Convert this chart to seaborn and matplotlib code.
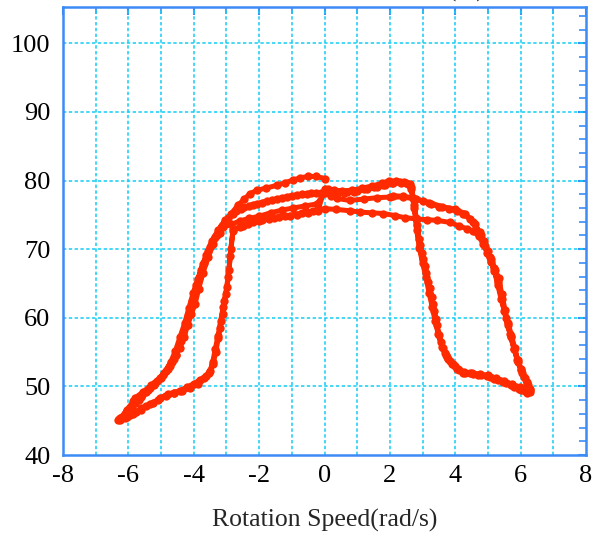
import numpy as np
import pandas as pd
import matplotlib
matplotlib.use("Agg")
import matplotlib.pyplot as plt
import seaborn as sns
from matplotlib.ticker import MultipleLocator

# ---- data ----
seg1_x = [2.10, 2.40, 2.70, 3.00, 3.25, 3.50, 3.80, 4.05, 4.25, 4.45, 4.60, 4.75, 4.88, 5.00, 5.10, 5.22, 5.33, 5.42, 5.52, 5.62, 5.72, 5.82, 5.92, 6.02, 6.12, 6.22, 6.30]
seg1_y = [77.8, 77.7, 77.5, 77.0, 76.6, 76.2, 75.9, 75.5, 75.1, 74.4, 73.6, 72.5, 71.2, 69.8, 68.6, 67.0, 65.8, 63.5, 61.2, 59.2, 57.4, 55.6, 53.8, 52.4, 51.2, 50.2, 49.5]

seg2_x = [6.15, 5.98, 5.75, 5.50, 5.25, 5.00, 4.75, 4.50, 4.27, 4.08, 3.90, 3.75, 3.62, 3.50, 3.40, 3.32, 3.22, 3.12, 3.02, 2.93, 2.83, 2.75, 2.65, 2.50, 2.30, 2.05, 1.80, 1.50, 1.20, 0.90, 0.60, 0.30, 0.05, -0.25, -0.55, -0.85, -1.15, -1.45, -1.76, -2.05, -2.30, -2.55, -2.80, -3.05, -3.25, -3.45, -3.62, -3.78, -3.92, -4.05, -4.18, -4.32, -4.45, -4.60, -4.78, -5.00, -5.22, -5.45, -5.68, -5.90, -6.10, -6.28]
seg2_y = [49.6, 49.9, 50.3, 50.8, 51.2, 51.6, 51.8, 51.9, 52.1, 52.6, 53.3, 54.3, 55.6, 57.5, 59.8, 62.0, 64.3, 66.6, 68.6, 70.6, 73.5, 76.5, 79.0, 79.6, 79.8, 79.7, 79.3, 79.0, 78.7, 78.4, 78.2, 78.2, 78.3, 78.2, 78.1, 77.9, 77.6, 77.3, 77.0, 76.6, 76.3, 75.8, 75.2, 74.2, 72.8, 71.2, 69.2, 67.0, 64.8, 62.5, 60.2, 57.8, 55.8, 54.0, 52.5, 51.2, 50.2, 49.2, 48.0, 46.9, 46.0, 45.2]

seg3_x = [-6.10, -5.95, -5.78, -5.62, -5.45, -5.24, -5.02, -4.80, -4.60, -4.42, -4.20, -4.00, -3.80, -3.62, -3.50, -3.41, -3.33, -3.25, -3.19, -3.12, -3.06, -2.98, -2.92, -2.87, -2.80, -2.60, -2.35, -2.00, -1.70, -1.40, -1.05, -0.70, -0.35, 0.00, 0.35, 0.78, 1.10, 1.45, 1.80, 2.15, 2.45, 2.83, 3.15, 3.44, 3.84, 4.10, 4.35, 4.55, 4.72, 4.85, 4.97, 5.08, 5.20, 5.30, 5.40, 5.50, 5.60, 5.70, 5.80, 5.90, 6.00, 6.10, 6.20, 6.28]
seg3_y = [45.4, 45.8, 46.2, 46.6, 47.1, 47.6, 48.3, 48.9, 49.1, 49.4, 49.9, 50.4, 51.0, 51.5, 52.3, 53.2, 55.0, 57.0, 58.5, 60.5, 62.5, 64.5, 67.0, 70.0, 72.6, 73.2, 73.6, 74.1, 74.4, 74.7, 74.9, 75.3, 75.6, 75.9, 75.8, 75.6, 75.4, 75.3, 75.2, 74.9, 74.6, 74.4, 74.3, 74.2, 73.9, 73.4, 73.0, 72.6, 71.9, 70.8, 69.5, 68.2, 66.8, 64.8, 62.8, 61.0, 59.0, 57.2, 55.4, 53.8, 52.5, 51.3, 50.3, 49.2]

seg4_x = [6.12, 5.95, 5.70, 5.46, 5.20, 4.97, 4.70, 4.45, 4.24, 4.05, 3.93, 3.78, 3.68, 3.55, 3.43, 3.36, 3.28, 3.18, 3.08, 2.98, 2.88, 2.80, 2.72, 2.62, 2.42, 2.20, 1.98, 1.75, 1.45, 1.15, 0.85, 0.55, 0.30, 0.10, 0.00, -0.23, -0.60, -0.96, -1.30, -1.65, -2.00, -2.30, -2.60, -2.85, -3.10, -3.30, -3.50, -3.68, -3.85, -3.98, -4.10, -4.25, -4.40, -4.55, -4.72, -4.95, -5.18, -5.40, -5.62, -5.85, -6.05, -6.25]
seg4_y = [49.3, 49.6, 50.2, 50.7, 51.1, 51.5, 51.7, 51.9, 52.0, 52.6, 53.2, 54.0, 54.8, 56.5, 59.0, 61.0, 63.0, 65.2, 67.5, 69.5, 71.5, 74.5, 77.5, 79.5, 79.8, 79.9, 80.0, 79.6, 79.2, 78.9, 78.6, 78.5, 78.6, 78.8, 78.2, 76.6, 76.3, 76.0, 75.7, 75.3, 74.8, 74.5, 74.1, 73.6, 73.2, 72.0, 70.3, 68.0, 65.8, 63.2, 61.2, 58.8, 56.6, 54.6, 53.0, 51.6, 50.5, 49.5, 48.5, 47.4, 46.4, 45.4]

seg5_x = [-6.05, -5.85, -5.60, -5.35, -5.10, -4.85, -4.60, -4.35, -4.10, -3.88, -3.68, -3.52, -3.42, -3.34, -3.26, -3.18, -3.10, -3.02, -2.95, -2.88, -2.80, -2.50, -2.20, -1.90, -1.55, -1.20, -0.85, -0.50, -0.20, 0.00, 0.20, 0.38, 0.78, 1.20, 1.60, 2.00, 2.40, 2.80, 3.20, 3.60, 4.00, 4.30, 4.55, 4.78, 4.92, 5.05, 5.18, 5.30, 5.42, 5.55, 5.68, 5.80, 5.92, 6.05, 6.18, 6.30]
seg5_y = [45.5, 46.0, 46.8, 47.4, 48.0, 48.6, 49.0, 49.3, 49.8, 50.4, 51.2, 52.0, 53.5, 55.5, 57.3, 59.5, 61.5, 63.5, 66.0, 69.0, 72.9, 73.4, 73.9, 74.3, 74.6, 74.9, 75.0, 75.3, 75.6, 78.8, 77.8, 77.4, 77.1, 77.3, 77.5, 77.6, 77.6, 77.3, 76.8, 76.2, 75.8, 75.2, 74.0, 72.0, 70.4, 68.8, 67.2, 65.2, 62.8, 60.0, 57.6, 55.5, 53.6, 52.0, 50.6, 49.6]

seg6_x = [6.20, 6.00, 5.80, 5.55, 5.30, 5.05, 4.80, 4.55, 4.30, 4.12, 3.98, 3.85, 3.72, 3.60, 3.48, 3.38, 3.30, 3.20, 3.10, 3.00, 2.90, 2.82, 2.74, 2.66, 2.55, 2.35, 2.10, 1.85, 1.60, 1.30, 1.00, 0.70, 0.40, 0.15, -0.10, -0.40, -0.70, -1.00, -1.30, -1.60, -1.90, -2.20, -2.45, -2.70, -2.95, -3.15, -3.35, -3.55, -3.72, -3.88, -4.02, -4.15, -4.28, -4.42, -4.56, -4.70, -4.90, -5.12, -5.35, -5.58, -5.80, -6.00, -6.20, -6.32]
seg6_y = [49.0, 49.5, 49.9, 50.5, 50.9, 51.4, 51.6, 51.8, 52.0, 52.4, 53.0, 53.7, 54.6, 55.8, 57.6, 59.6, 61.5, 63.6, 66.0, 68.0, 70.2, 72.8, 76.0, 78.8, 79.5, 79.7, 79.6, 79.4, 79.0, 78.8, 78.5, 78.3, 78.3, 78.4, 78.2, 78.2, 78.0, 77.8, 77.5, 77.2, 76.8, 76.5, 76.1, 75.6, 74.6, 73.4, 71.8, 69.8, 67.8, 65.6, 63.6, 61.4, 59.2, 57.2, 55.2, 53.6, 52.0, 50.8, 49.8, 48.8, 47.6, 46.6, 45.6, 45.1]

seg7_x = [-6.25, -6.05, -5.85, -5.80, -5.55, -5.30, -5.03, -4.85, -4.68, -4.55, -4.42, -4.30, -4.18, -4.07, -3.96, -3.85, -3.72, -3.56, -3.40, -3.20, -3.04, -2.85, -2.65, -2.45, -2.28, -2.05, -1.80, -1.46, -1.20, -0.95, -0.75, -0.50, -0.25, 0.02]
seg7_y = [45.1, 46.6, 47.8, 48.3, 49.2, 50.2, 51.2, 52.3, 53.6, 54.6, 55.6, 57.2, 59.0, 60.6, 62.0, 64.2, 66.5, 68.8, 70.8, 72.3, 73.9, 75.2, 76.4, 77.3, 78.1, 78.6, 78.9, 79.3, 79.7, 80.1, 80.4, 80.6, 80.6, 80.3]

x_ticks = [-8, -6, -4, -2, 0, 2, 4, 6, 8]
y_ticks = [40, 50, 60, 70, 80, 90, 100]
x_label = "Rotation Speed(rad/s)"
top_text = "(%)"

# ---- build table ----
xs = seg1_x + seg2_x + seg3_x + seg4_x + seg5_x + seg6_x + seg7_x
ys = seg1_y + seg2_y + seg3_y + seg4_y + seg5_y + seg6_y + seg7_y
df = pd.DataFrame({"speed": xs, "eff": ys, "order": np.arange(len(xs))})

sns.set_style("white")
plt.rcParams["font.family"] = ["Liberation Serif", "DejaVu Serif"]
plt.rcParams["axes.unicode_minus"] = False

RED = "#ff2a00"
BLUE = "#3d8bf5"
CYAN = "#14cdf5"

fig = plt.figure(figsize=(5.94, 5.33), dpi=100)
ax = fig.add_axes([63 / 594, 1 - 455 / 533, (586 - 63) / 594, (455 - 7) / 533])

sns.lineplot(data=df, x="speed", y="eff", sort=False, estimator=None, ax=ax,
             color=RED, linewidth=3.6, marker="o", markersize=6,
             markeredgewidth=0, zorder=3)

ax.set_xlim(-8, 8)
ax.set_ylim(40, 105.3)
ax.set_xticks(x_ticks)
ax.set_yticks(y_ticks)
ax.xaxis.set_minor_locator(MultipleLocator(1))
ax.yaxis.set_minor_locator(MultipleLocator(2))

# grid
for xv in np.arange(-7, 8, 1):
    ax.axvline(xv, color=CYAN, linestyle=(0, (2.2, 1.6)), linewidth=1.1, zorder=1)
for yv in [50, 60, 70, 80, 90, 100]:
    ax.axhline(yv, color=CYAN, linestyle=(0, (2.2, 1.6)), linewidth=1.1, zorder=1)

for sp in ax.spines.values():
    sp.set_color(BLUE)
    sp.set_linewidth(1.8)

ax.tick_params(which="both", direction="in", top=True, right=True,
               color=BLUE, labelcolor="black", labelsize=19)
ax.tick_params(which="major", length=6, width=1.5)
ax.tick_params(which="minor", length=5, width=1.2)
ax.tick_params(axis="x", which="major", pad=7)
ax.tick_params(axis="y", which="major", pad=9)

ax.set_xlabel(x_label, fontsize=18.5, labelpad=16)
ax.set_ylabel("")

fig.text(467 / 594, 1.0 + 3 / 533, top_text, ha="center", va="baseline", fontsize=18)

fig.savefig("out.png", dpi=100)
